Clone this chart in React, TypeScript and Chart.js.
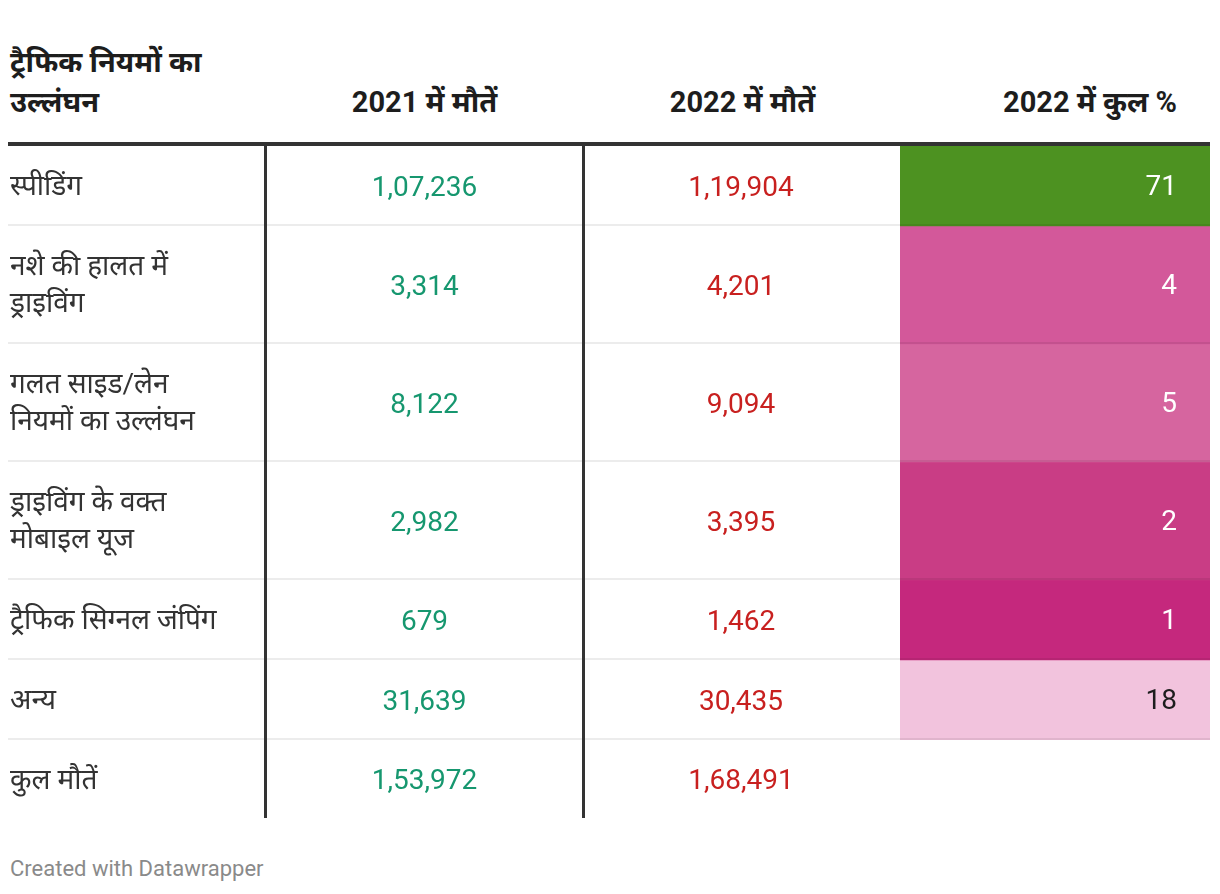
import React, { useEffect, useRef } from "react";
import { Chart, registerables } from "chart.js";

Chart.register(...registerables);

// ---------- data ----------
const HEADER_FIRST = "ट्रैफिक नियमों का\nउल्लंघन";
const HEADERS = ["2021 में मौतें", "2022 में मौतें", "2022 में कुल %"];
const CATEGORIES = [
  "स्पीडिंग",
  "नशे की हालत में\nड्राइविंग",
  "गलत साइड/लेन\nनियमों का उल्लंघन",
  "ड्राइविंग के वक्त\nमोबाइल यूज",
  "ट्रैफिक सिग्नल जंपिंग",
  "अन्य",
  "कुल मौतें",
];
const DEATHS_2021 = [107236, 3314, 8122, 2982, 679, 31639, 153972];
const DEATHS_2022 = [119904, 4201, 9094, 3395, 1462, 30435, 168491];
const SHARE_2022 = [71, 4, 5, 2, 1, 18, null];
const FOOTER = "Created with Datawrapper";

// ---------- styles ----------
const FONT = "Roboto, 'Noto Sans', 'Noto Sans Devanagari', sans-serif";
const GREEN_TEXT = "#16976f";
const RED_TEXT = "#c8201f";
const DARK_LINE = "#333333";
const COL_W = [256, 318, 318, 310];
const ONE_LINE_ROW = 80;
const TWO_LINE_ROW = 118;
const BODY_FS = 28;
const HEAD_FS = 29;

// diverging colour scale (PiYG-like) for the share column
const COLOR_STOPS: [number, string][] = [
  [1, "#c5287d"],
  [2, "#c93d85"],
  [4, "#d3589a"],
  [5, "#d6659f"],
  [18, "#f2c3dd"],
  [71, "#4d9221"],
];
function hexToRgb(h: string) {
  const n = parseInt(h.slice(1), 16);
  return [(n >> 16) & 255, (n >> 8) & 255, n & 255];
}
function colorFor(v: number) {
  if (v <= COLOR_STOPS[0][0]) return COLOR_STOPS[0][1];
  for (let i = 1; i < COLOR_STOPS.length; i++) {
    const [v1, c1] = COLOR_STOPS[i];
    const [v0, c0] = COLOR_STOPS[i - 1];
    if (v <= v1) {
      const t = (v - v0) / (v1 - v0);
      const a = hexToRgb(c0);
      const b = hexToRgb(c1);
      const m = a.map((x, k) => Math.round(x + (b[k] - x) * t));
      return `rgb(${m[0]},${m[1]},${m[2]})`;
    }
  }
  return COLOR_STOPS[COLOR_STOPS.length - 1][1];
}
function isLight(color: string) {
  let rgb: number[];
  if (color.startsWith("#")) rgb = hexToRgb(color);
  else rgb = color.replace(/[^\d,]/g, "").split(",").map(Number);
  const l = 0.299 * rgb[0] + 0.587 * rgb[1] + 0.114 * rgb[2];
  return l > 170;
}

function fmtIN(n: number) {
  const s = String(n);
  if (s.length <= 3) return s;
  const last3 = s.slice(-3);
  let rest = s.slice(0, -3);
  const parts: string[] = [];
  while (rest.length > 2) {
    parts.unshift(rest.slice(-2));
    rest = rest.slice(0, -2);
  }
  if (rest) parts.unshift(rest);
  return parts.join(",") + "," + last3;
}

const rowHeights = CATEGORIES.map((c, i) =>
  c.split("\n").length > 1
    ? TWO_LINE_ROW
    : i === CATEGORIES.length - 1
    ? ONE_LINE_ROW - 2
    : ONE_LINE_ROW
);

const HEADER_TOP = 0;
const HEADER_H = 134;
const HEADER_RULE = 4;

function ShareChart() {
  const ref = useRef<HTMLCanvasElement | null>(null);
  useEffect(() => {
    if (!ref.current) return;
    const idx = SHARE_2022.map((v, i) => i).filter((i) => SHARE_2022[i] != null);
    const heights = idx.map((i) => rowHeights[i]);
    const total = heights.reduce((a, b) => a + b, 0);
    const labelPlugin = {
      id: "cellLabels",
      afterDatasetsDraw(chart: any) {
        const ctx = chart.ctx;
        ctx.save();
        ctx.font = `${BODY_FS}px ${FONT}`;
        ctx.textAlign = "right";
        ctx.textBaseline = "middle";
        chart.data.datasets.forEach((ds: any, k: number) => {
          const bar = chart.getDatasetMeta(k).data[0];
          const p = bar.getProps(["y", "base"], true);
          const cy = (p.y + p.base) / 2;
          const bg = ds.backgroundColor as string;
          ctx.fillStyle = isLight(bg) ? "#1d1d1d" : "#ffffff";
          ctx.fillText(String(SHARE_2022[idx[k]]), chart.chartArea.right - 33, cy + 2);
        });
        ctx.restore();
      },
    };
    const chart = new Chart(ref.current, {
      type: "bar",
      data: {
        labels: [""],
        datasets: idx.map((i, k) => ({
          label: CATEGORIES[i],
          data: [heights[k]],
          backgroundColor: colorFor(SHARE_2022[i] as number),
          borderWidth: 0,
          barPercentage: 1,
          categoryPercentage: 1,
          stack: "s",
        })),
      },
      options: {
        animation: false,
        responsive: false,
        maintainAspectRatio: false,
        layout: { padding: 0 },
        plugins: { legend: { display: false }, tooltip: { enabled: false } },
        scales: {
          x: { display: false, stacked: true },
          y: { display: false, stacked: true, reverse: true, min: 0, max: total },
        },
      },
      plugins: [labelPlugin],
    });
    return () => chart.destroy();
  }, []);
  const h = SHARE_2022.reduce(
    (acc, v, i) => (v != null ? acc + rowHeights[i] : acc),
    0 as number
  );
  return (
    <canvas
      ref={ref}
      width={COL_W[3]}
      height={h}
      style={{
        position: "absolute",
        left: COL_W[0] + COL_W[1] + COL_W[2],
        top: HEADER_TOP + HEADER_H + HEADER_RULE,
        width: COL_W[3],
        height: h,
        zIndex: 0,
      }}
    />
  );
}

export default function App() {
  const gridCols = COL_W.map((w) => `${w}px`).join(" ");
  const tableW = COL_W.reduce((a, b) => a + b, 0);
  return (
    <div
      style={{
        position: "relative",
        width: tableW,
        fontFamily: FONT,
        background: "#fff",
      }}
    >
      <ShareChart />
      {/* header */}
      <div
        style={{
          display: "grid",
          gridTemplateColumns: gridCols,
          height: HEADER_H,
          borderBottom: `${HEADER_RULE}px solid ${DARK_LINE}`,
          fontWeight: 700,
          fontSize: HEAD_FS,
          color: "#1d1d1d",
          lineHeight: "40px",
          position: "relative",
          zIndex: 1,
        }}
      >
        <div
          style={{
            display: "flex",
            alignItems: "flex-end",
            paddingLeft: 2,
            paddingBottom: 20,
            whiteSpace: "pre-line",
          }}
        >
          {HEADER_FIRST}
        </div>
        {HEADERS.map((h, i) => (
          <div
            key={h}
            style={{
              display: "flex",
              alignItems: "flex-end",
              justifyContent: i === 2 ? "flex-end" : "center",
              paddingRight: i === 2 ? 33 : 0,
              paddingLeft: i < 2 ? 3 : 0,
              paddingBottom: 20,
            }}
          >
            {h}
          </div>
        ))}
      </div>
      {/* body */}
      {CATEGORIES.map((c, r) => {
        const last = r === CATEGORIES.length - 1;
        return (
          <div
            key={c}
            style={{
              display: "grid",
              gridTemplateColumns: gridCols,
              height: rowHeights[r],
              boxSizing: "border-box",
              borderBottom: last ? "none" : "2px solid rgba(0,0,0,0.075)",
              fontSize: BODY_FS,
              lineHeight: "37px",
              position: "relative",
              zIndex: 1,
            }}
          >
            <div
              style={{
                display: "flex",
                alignItems: "center",
                paddingLeft: 2,
                whiteSpace: "pre-line",
                color: "#333",
              }}
            >
              {c}
            </div>
            <div
              style={{
                display: "flex",
                alignItems: "center",
                justifyContent: "center",
                borderLeft: `3px solid ${DARK_LINE}`,
                color: GREEN_TEXT,
                marginBottom: last ? 0 : -2,
              }}
            >
              {fmtIN(DEATHS_2021[r])}
            </div>
            <div
              style={{
                display: "flex",
                alignItems: "center",
                justifyContent: "center",
                borderLeft: `3px solid ${DARK_LINE}`,
                borderRight: `3px solid transparent`,
                color: RED_TEXT,
                marginBottom: last ? 0 : -2,
              }}
            >
              {fmtIN(DEATHS_2022[r])}
            </div>
            <div />
          </div>
        );
      })}
      <div
        style={{
          marginTop: 38,
          paddingLeft: 2,
          fontSize: 22,
          color: "#8a8a8a",
          lineHeight: "26px",
        }}
      >
        {FOOTER}
      </div>
    </div>
  );
}
